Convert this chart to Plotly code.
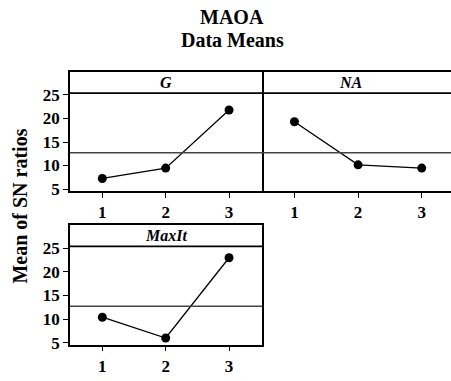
import plotly.graph_objects as go

# ---- data ----
levels = [1, 2, 3]
tick_labels = ["1", "2", "3"]
g_means = [7.25, 9.45, 21.8]
na_means = [19.3, 10.15, 9.45]
maxit_means = [10.4, 6.0, 23.0]
overall_mean = 12.7
y_ticks = [5, 10, 15, 20, 25]
panel_names = ["G", "NA", "MaxIt"]

FONT = "Liberation Serif"
W, H = 451, 381

fig = go.Figure()

series = [g_means, na_means, maxit_means]
for i, vals in enumerate(series):
    sfx = "" if i == 0 else str(i + 1)
    fig.add_trace(go.Scatter(
        x=levels, y=vals, mode="lines+markers",
        xaxis="x" + sfx, yaxis="y" + sfx,
        line=dict(color="black", width=1.3),
        marker=dict(color="black", size=9),
        showlegend=False, hoverinfo="skip"))

def px_x(a, b):
    return [a / W, b / W]

def px_y(top, bottom):
    return [1 - bottom / H, 1 - top / H]

YR = [4.6, 29.9]
strip_y = 25.4

axis_common = dict(showgrid=False, zeroline=False,
                   linecolor="black", linewidth=1.6)
tickfont = dict(family=FONT, size=17, color="black", weight="bold")

xdoms = [px_x(70, 262), px_x(262, 451), px_x(70, 262)]
ydoms = [px_y(73.5, 195), px_y(73.5, 195), px_y(230, 352)]
xranges = [[0.49, 3.52], [0.49, 3.46], [0.49, 3.52]]

for i in range(3):
    sfx = "" if i == 0 else str(i + 1)
    fig.update_layout(**{
        "xaxis" + sfx: dict(axis_common, domain=xdoms[i], range=xranges[i],
                            anchor="y" + sfx, mirror=True, showline=True,
                            tickmode="array", tickvals=levels, ticktext=tick_labels,
                            ticks="outside", ticklen=5, tickwidth=1.3,
                            tickcolor="black", tickfont=tickfont),
        "yaxis" + sfx: dict(axis_common, domain=ydoms[i], range=YR,
                            anchor="x" + sfx,
                            showline=(i != 1), mirror=True,
                            tickmode="array", tickvals=y_ticks,
                            ticks=("outside" if i != 1 else ""),
                            ticklen=5, tickwidth=1.3, tickcolor="black",
                            showticklabels=(i != 1), tickfont=tickfont),
    })
    xr = "x" + sfx
    yr = "y" + sfx
    # strip separator line
    fig.add_shape(type="line", xref=xr + " domain", yref=yr,
                  x0=0, x1=1, y0=strip_y, y1=strip_y,
                  line=dict(color="black", width=1.8))
    # overall mean reference line
    fig.add_shape(type="line", xref=xr + " domain", yref=yr,
                  x0=0, x1=1, y0=overall_mean, y1=overall_mean,
                  line=dict(color="#444444", width=1.5))
    # strip label
    fig.add_annotation(xref=xr + " domain", yref=yr,
                       x=0.5 if i != 1 else 0.47, y=(strip_y + YR[1]) / 2,
                       xanchor="center", yanchor="middle",
                       text="<b><i>%s</i></b>" % panel_names[i],
                       showarrow=False,
                       font=dict(family=FONT, size=16, color="black"))

fig.add_annotation(xref="paper", yref="paper", x=232 / W, y=1 - 17 / H,
                   xanchor="center", yanchor="middle",
                   text="<b>MAOA</b>", showarrow=False,
                   font=dict(family=FONT, size=20, color="black"))
fig.add_annotation(xref="paper", yref="paper", x=232 / W, y=1 - 41 / H,
                   xanchor="center", yanchor="middle",
                   text="<b>Data Means</b>", showarrow=False,
                   font=dict(family=FONT, size=20, color="black"))
fig.add_annotation(xref="paper", yref="paper", x=20 / W, y=1 - 211 / H,
                   xanchor="center", yanchor="middle",
                   text="<b>Mean of SN ratios</b>", showarrow=False,
                   textangle=-90,
                   font=dict(family=FONT, size=20, color="black"))

fig.update_layout(width=W, height=H, margin=dict(l=0, r=0, t=0, b=0),
                  paper_bgcolor="white", plot_bgcolor="white",
                  font=dict(family=FONT, color="black"))

fig.write_html("out.html", config={"displayModeBar": False},
               post_script="document.body.style.margin='0';document.body.style.overflow='hidden';")
